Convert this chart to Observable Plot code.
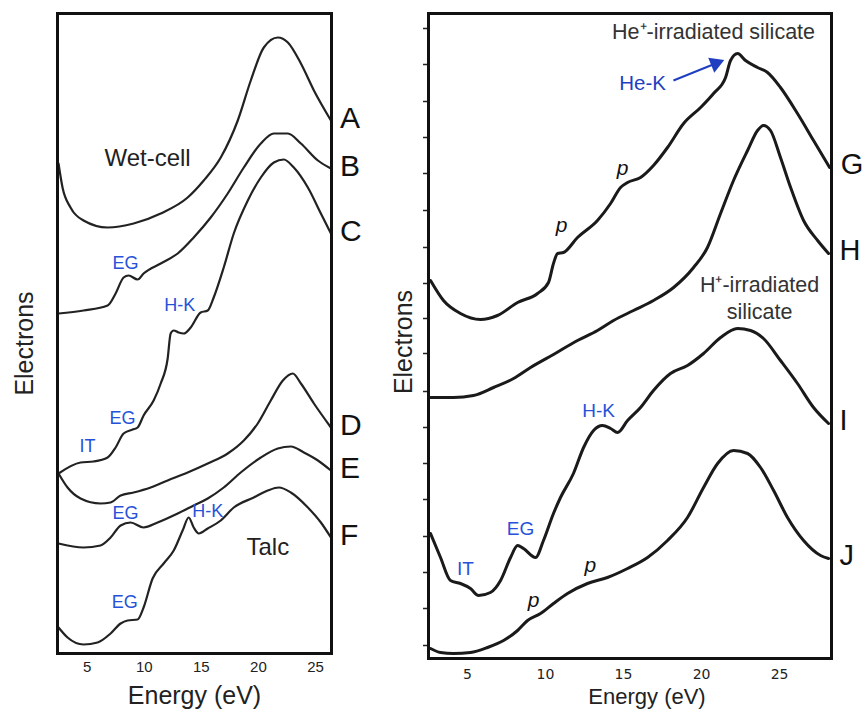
<!DOCTYPE html>
<html><head><meta charset="utf-8">
<script src="https://cdn.jsdelivr.net/npm/d3@7"></script>
<script src="https://cdn.jsdelivr.net/npm/@observablehq/plot@0.6"></script>
<style>
body{margin:0;background:#fff;}
#wrap{position:relative;width:862px;height:709px;overflow:hidden;background:#fff;}
#left{position:absolute;left:0;top:0;}
#right{position:absolute;left:380px;top:0;}
</style></head><body><div id="wrap"><div id="left"></div><div id="right"></div></div>
<script>
// ---------- data (energy in eV, electron yield in arbitrary units) ----------
const energyTicks = [5, 10, 15, 20, 25];
const rightYTicks = [13, 50, 86, 122, 159, 195, 231, 267, 305, 340, 375, 411, 448, 485, 521, 557, 594, 630];

// Left panel curves
const curveA = [[2.49,490],[2.84,466],[3.54,446],[4.68,433],[6.79,426],[9.07,430],[11.44,440],[13.80,456],[15.21,473],[16.70,496],[18.19,533],[19.33,573],[20.47,606],[21.70,616],[22.58,611],[23.72,590],[24.86,563],[26.35,533]];
const curveB = [[2.49,340],[4.68,343],[6.79,348],[7.49,360],[8.19,376],[8.63,378],[9.42,374],[9.94,380],[11.44,390],[12.93,400],[14.33,416],[15.82,436],[17.31,460],[18.72,486],[20.21,510],[21.35,520],[22.58,520],[23.72,510],[25.21,493],[26.35,485]];
const curveC = [[2.49,180],[4.42,191],[5.56,192],[6.79,196],[7.49,206],[8.19,220],[8.98,224],[9.42,226],[9.94,238],[10.82,253],[11.44,270],[12.05,295],[12.31,320],[12.58,323],[13.01,321],[13.45,320],[14.07,326],[14.94,341],[15.56,343],[16.08,356],[16.96,386],[17.84,420],[19.07,453],[20.21,476],[21.35,491],[22.22,494],[23.10,486],[24.33,466],[25.47,440],[26.35,420]];
const curveD = [[2.49,180],[3.28,166],[4.42,155],[6.17,150],[7.05,151],[7.93,158],[9.07,161],[10.56,166],[12.05,173],[13.80,181],[15.56,190],[17.31,200],[18.72,213],[19.94,230],[21.08,253],[22.14,273],[23.01,280],[23.72,270],[24.86,250],[26.35,226]];
const curveE = [[2.49,110],[4.68,106],[6.17,108],[7.05,116],[7.93,128],[8.80,131],[9.94,126],[11.17,131],[12.93,140],[14.33,148],[15.56,155],[16.96,166],[18.45,181],[20.21,196],[21.70,205],[22.84,207],[23.98,201],[25.21,193],[26.35,183]];
const curveF = [[2.49,26],[3.28,16],[4.68,9],[5.91,11],[7.05,20],[7.93,30],[8.54,33],[9.42,34],[9.94,46],[10.73,75],[11.70,90],[12.58,103],[13.36,123],[13.89,136],[14.33,126],[14.77,120],[15.56,125],[16.70,133],[17.84,146],[19.59,156],[20.82,163],[21.79,166],[22.84,161],[24.33,146],[25.47,131],[26.35,116]];

// Right panel curves
const curveG = [[2.63,378],[3.46,358],[4.55,345],[5.83,339],[6.92,343],[8.21,356],[9.49,365],[10.19,376],[10.51,395],[10.77,405],[11.15,406],[12.05,421],[13.33,438],[14.17,455],[14.81,471],[15.26,476],[16.09,481],[16.92,493],[17.82,511],[18.85,535],[19.94,551],[20.77,565],[21.54,581],[21.86,598],[22.31,605],[22.82,598],[23.59,591],[24.23,586],[25.06,571],[26.15,545],[27.18,518],[28.21,491]];
const curveH = [[2.63,261],[4.10,261],[5.38,263],[6.67,271],[7.95,280],[9.04,291],[10.51,304],[12.05,318],[13.33,328],[14.36,338],[15.64,348],[16.92,358],[18.21,371],[19.49,391],[20.38,411],[21.22,445],[22.05,478],[22.95,508],[23.59,528],[23.97,533],[24.42,528],[25.06,501],[25.71,471],[26.54,438],[27.44,418],[28.14,405]];
const curveI = [[2.63,125],[3.27,101],[3.91,78],[4.55,75],[5.19,70],[5.71,63],[6.47,66],[7.12,78],[7.76,101],[8.21,113],[8.59,110],[9.36,101],[9.87,118],[10.51,145],[10.96,161],[11.79,185],[12.44,211],[13.08,228],[13.65,233],[14.17,230],[14.62,226],[15.26,238],[16.09,251],[16.92,268],[18.01,285],[19.10,293],[20.13,305],[21.22,321],[22.31,330],[23.14,328],[23.97,320],[25.06,298],[26.15,275],[27.18,251],[28.14,235]];
const curveJ = [[2.63,10],[3.27,6],[4.10,5],[5.19,6],[6.28,11],[7.31,18],[8.21,28],[8.85,38],[9.68,45],[10.51,55],[11.41,65],[12.69,75],[13.97,81],[15.26,90],[16.54,101],[17.82,118],[19.10,141],[20.13,171],[21.03,195],[22.05,208],[22.95,205],[23.78,191],[24.62,168],[25.51,141],[26.54,118],[27.63,103],[28.14,100]];

const leftNames = ["A", "B", "C", "D", "E", "F"];
const rightNames = ["G", "H", "I", "J"];

// Annotations: [text, energy, yield]
const leftSampleNotes = [["Wet-cell", 10.29, 495], ["Talc", 20.82, 106]];
const leftFeatureNotes = [["EG", 8.36, 390], ["H-K", 13.10, 348], ["IT", 5.03, 207], ["EG", 8.10, 235], ["EG", 8.36, 140], ["H-K", 15.56, 142], ["EG", 8.28, 51]];
const rightSampleNotes = [["He\u207A-irradiated silicate", 20.77, 626], ["H\u207A-irradiated", 23.72, 373], ["silicate", 23.72, 346]];
const rightFeatureNotes = [["H-K", 13.40, 248], ["EG", 8.40, 130], ["IT", 4.87, 90]];
const plasmonNotes = [["p", 11.03, 433], ["p", 14.94, 490], ["p", 9.23, 58], ["p", 12.88, 93]];
const heKNote = ["He-K", 16.22, 575];
const heKArrow = {x1: 18.2, y1: 578, x2: 20.9, y2: 595};

// ---------- build tables ----------
const toRows = (names, curves) => names.flatMap((n, i) => curves[i].map(([E, v]) => ({curve: n, E, v})));
const leftRows = toRows(leftNames, [curveA, curveB, curveC, curveD, curveE, curveF]);
const rightRows = toRows(rightNames, [curveG, curveH, curveI, curveJ]);
const notes = arr => arr.map(([text, E, v]) => ({text, E, v}));

const FONT = "'Liberation Sans', Arial, Helvetica, sans-serif";
const BLUE = "#2552d9";

const left = Plot.plot({
  width: 380, height: 709,
  marginLeft: 57, marginRight: 49, marginTop: 13, marginBottom: 56,
  style: {fontFamily: FONT, fontSize: "15px", background: "transparent", overflow: "visible"},
  x: {domain: [2.4, 26.4]},
  y: {domain: [0, 640], axis: null},
  marks: [
    Plot.axisX({ticks: energyTicks, tickSize: 0, tickPadding: 8, fontSize: 15, label: null, fill: "#222"}),
    Plot.line(leftRows, {x: "E", y: "v", z: "curve", curve: "monotone-x", stroke: "#222", strokeWidth: 2.2}),
    Plot.text(leftRows, Plot.selectLast({x: "E", y: "v", z: "curve", text: "curve", dx: 9, dy: -2, textAnchor: "start", fontSize: 30, fill: "#111"})),
    Plot.text(notes(leftSampleNotes), {x: "E", y: "v", text: "text", fontSize: 24, fill: "#222"}),
    Plot.text(notes(leftFeatureNotes), {x: "E", y: "v", text: "text", fontSize: 18, fill: BLUE}),
    Plot.text(["Electrons"], {frameAnchor: "left", textAnchor: "middle", lineAnchor: "middle", dx: -33, dy: 10, rotate: -90, fontSize: 25, fill: "#222"}),
    Plot.text(["Energy (eV)"], {frameAnchor: "bottom", lineAnchor: "middle", dy: 42, fontSize: 25, fill: "#222"}),
    Plot.frame({stroke: "#111", strokeWidth: 3})
  ]
});
document.getElementById("left").append(left);

const right = Plot.plot({
  width: 482, height: 709,
  marginLeft: 48, marginRight: 31, marginTop: 13, marginBottom: 51,
  style: {fontFamily: FONT, fontSize: "14px", background: "transparent", overflow: "visible"},
  x: {domain: [2.5, 28.33]},
  y: {domain: [0, 645]},
  marks: [
    Plot.axisX({ticks: energyTicks, tickSize: 0, tickPadding: 11, fontSize: 14, fontFamily: "'DejaVu Sans', sans-serif", label: null, fill: "#222"}),
    Plot.axisY({ticks: rightYTicks, tickSize: 5, tickFormat: () => "", label: null, strokeWidth: 1.5, stroke: "#222"}),
    Plot.line(rightRows, {x: "E", y: "v", z: "curve", curve: "monotone-x", stroke: "#1a1a1a", strokeWidth: 3}),
    Plot.text(rightRows, Plot.selectLast({x: "E", y: "v", z: "curve", text: "curve", dx: 11, dy: -3, textAnchor: "start", fontSize: 29, fill: "#111"})),
    Plot.text(notes(rightSampleNotes), {x: "E", y: "v", text: "text", fontSize: 21.5, fill: "#333"}),
    Plot.text(notes(rightFeatureNotes), {x: "E", y: "v", text: "text", fontSize: 19, fill: BLUE}),
    Plot.text(notes(plasmonNotes), {x: "E", y: "v", text: "text", fontSize: 21, fontStyle: "italic", fill: "#111"}),
    Plot.text(notes([heKNote]), {x: "E", y: "v", text: "text", fontSize: 20.5, fill: "#1f3fc0"}),
    Plot.link([heKArrow], {x1: "x1", y1: "y1", x2: "x2", y2: "y2", stroke: "#1f3fc0", strokeWidth: 2}),
    Plot.dot([heKArrow], {x: "x2", y: "y2", symbol: "triangle", r: 6, rotate: 68, fill: "#1f3fc0"}),
    Plot.text(["Electrons"], {frameAnchor: "left", textAnchor: "middle", lineAnchor: "middle", dx: -25, dy: 6, rotate: -90, fontSize: 25, fill: "#222"}),
    Plot.text(["Energy (eV)"], {frameAnchor: "bottom", lineAnchor: "middle", dx: 17, dy: 38, fontSize: 22, fill: "#222"}),
    Plot.frame({stroke: "#111", strokeWidth: 3})
  ]
});
document.getElementById("right").append(right);
</script></body></html>
